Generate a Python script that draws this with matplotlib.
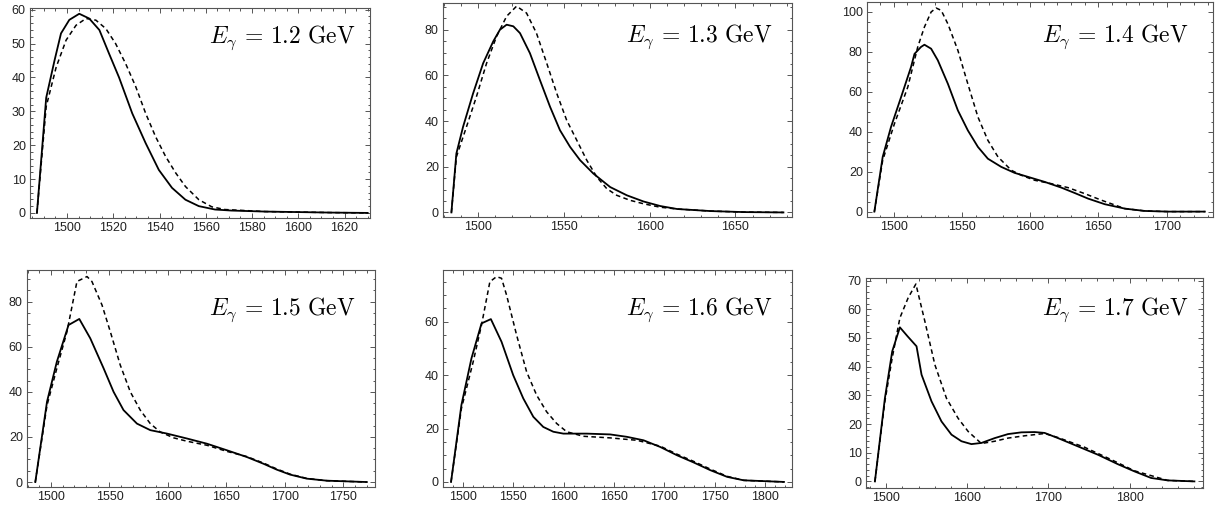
import matplotlib
matplotlib.use("Agg")
from matplotlib import pyplot as plt
from matplotlib.ticker import MultipleLocator, AutoMinorLocator

plt.rcParams['font.family'] = ['Liberation Sans', 'DejaVu Sans']
plt.rcParams['mathtext.fontset'] = 'cm'

# photon energies (GeV)
energies = ["1.2", "1.3", "1.4", "1.5", "1.6", "1.7"]

# E = 1.2
x12_sol = [1487, 1491, 1494.6, 1497.4, 1501, 1505.3, 1509.6, 1514, 1518.2, 1522.5, 1528.2, 1534, 1539.7,
           1545.4, 1551.2, 1557, 1564, 1571, 1585.6, 1614, 1630]
y12_sol = [0, 34, 45, 53, 57, 58.8, 57.4, 54, 47, 40, 29.4, 20.6, 12.7, 7.4, 3.9, 2.0, 1.0, 0.7, 0.4, 0.1, 0]
x12_dash = [1487, 1491, 1495.3, 1499.6, 1503.9, 1508.2, 1512.5, 1516.8, 1521, 1525.4, 1529.7, 1534, 1538.3,
            1542.6, 1547, 1551.2, 1557, 1562.6, 1568.3, 1585.6, 1614, 1630]
y12_dash = [0, 31.4, 43, 51, 55.4, 57.4, 56.9, 54.4, 50, 44, 37.3, 29.4, 22.5, 16.7, 11.8, 7.8, 3.9, 1.8,
            1.0, 0.4, 0.1, 0]

# E = 1.3
x13_sol = [1484.4, 1487.3, 1491.2, 1497, 1502.9, 1508.8, 1512.7, 1516.6, 1520.5, 1524.4, 1530.2, 1536,
           1541.9, 1547.7, 1553.6, 1559.4, 1567.2, 1577, 1586.7, 1596.4, 1606.2, 1616, 1635.4, 1655, 1678]
y13_sol = [0, 25.8, 37.5, 52, 65.3, 74.9, 80, 82.2, 81.5, 78.5, 69.7, 58, 46.3, 36, 28.7, 22.9, 17, 11.1,
           7.5, 4.8, 2.8, 1.5, 0.6, 0.15, 0]
x13_dash = [1484.4, 1487.3, 1493.2, 1499, 1504.9, 1510.7, 1516.6, 1522.4, 1528.2, 1534, 1540, 1545.8,
            1551.6, 1557.5, 1563.3, 1569.2, 1575, 1580.8, 1588.6, 1596.4, 1606, 1616, 1635.4, 1655, 1678]
y13_dash = [0, 24.3, 37.5, 50.7, 65.3, 77, 85.9, 90.3, 87.3, 78.5, 65.3, 52.2, 40.4, 31.6, 22.9, 15.5,
            10.4, 7.5, 5.3, 3.8, 2.3, 1.5, 0.6, 0.15, 0]

# E = 1.4
x14_sol = [1485.8, 1491.9, 1498, 1505.4, 1512.7, 1515.2, 1520, 1522.5, 1527.4, 1532.3, 1539.7, 1547,
           1554.3, 1561.7, 1569, 1578.8, 1588.6, 1598.4, 1610.6, 1622.9, 1632.7, 1642.5, 1654.7, 1669.4,
           1684, 1701, 1728]
y14_sol = [0, 27.4, 42.4, 57.4, 72.5, 79, 82.5, 83.6, 81.6, 75.8, 64, 50.7, 40.7, 32.4, 26.5, 22.4, 19.4,
           17.4, 14.9, 12, 9.3, 6.5, 3.7, 1.5, 0.33, 0, 0]
x14_dash = [1485.8, 1491.9, 1500.5, 1510.3, 1517.6, 1522.5, 1527.4, 1531, 1534.8, 1539.7, 1547, 1554.3,
            1561.7, 1569, 1576.4, 1586.2, 1593.5, 1603.3, 1615.5, 1627.8, 1640, 1652.3, 1669.4, 1684,
            1701, 1728]
y14_dash = [0, 25.7, 44, 62.4, 82.5, 92.5, 100, 102, 100.8, 94, 80.8, 64, 47.4, 35.7, 27.4, 20.7, 18.2,
            15.7, 14, 12, 9, 5.7, 1.5, 0.33, 0, 0]

# E = 1.5
x15_sol = [1486.6, 1496.6, 1505, 1515, 1524.2, 1533.6, 1545, 1553.5, 1562, 1573.5, 1584.9, 1599, 1616.2,
           1633.3, 1650.3, 1667.4, 1681.7, 1693, 1704.4, 1718.7, 1735.8, 1770]
y15_sol = [0, 35.6, 53.3, 69.6, 72.3, 63.7, 50.4, 40, 31.9, 25.9, 23, 21.5, 19.3, 17, 14.1, 11.1, 8.1,
           5.5, 3.3, 1.5, 0.6, 0]
x15_dash = [1486.6, 1496.6, 1505, 1513.7, 1522.2, 1530.8, 1535, 1543.6, 1550.7, 1559.2, 1567.8, 1576.3,
            1584.9, 1593.4, 1604.8, 1616.2, 1633.3, 1650.3, 1667.4, 1681.7, 1693, 1704.4, 1718.7, 1735.8,
            1770]
y15_dash = [0, 34, 50.4, 66.7, 88.9, 91.1, 88.9, 78.5, 66.7, 51.9, 40, 31.9, 25.9, 22.2, 19.6, 18.1,
            16.3, 13.6, 11.3, 8.4, 5.8, 3.5, 1.6, 0.6, 0]

# E = 1.6
x16_sol = [1488, 1498.3, 1508.3, 1518.3, 1527.6, 1538.2, 1549.8, 1559.8, 1569.8, 1579.7, 1589.7, 1599.7,
           1622.9, 1646.2, 1662.8, 1679.4, 1696, 1712.6, 1729.2, 1745.8, 1762.5, 1779, 1819]
y16_sol = [0, 28.8, 46.3, 59.4, 61, 52.5, 40, 31.3, 24.4, 20.6, 18.8, 18.1, 18.1, 17.8, 16.9, 15.6, 13.1,
           10, 7.3, 4.4, 1.9, 0.6, 0]
x16_dash = [1488, 1498.3, 1510, 1518.3, 1526.6, 1533.2, 1538.2, 1543.2, 1553.2, 1563.1, 1573.1, 1583,
            1593, 1603, 1619.6, 1646.2, 1672.8, 1696, 1712.6, 1729.2, 1745.8, 1762.5, 1779, 1819]
y16_dash = [0, 27.5, 45, 58.8, 75, 76.9, 76.3, 70, 55, 41.3, 32.5, 26.3, 21.9, 18.8, 17.1, 16.5, 15.6,
            13.4, 10.4, 7.7, 4.8, 2.1, 0.6, 0]

# E = 1.7
x17_sol = [1486, 1498.3, 1507.3, 1516.8, 1526.2, 1537.3, 1543.5, 1555.8, 1568.1, 1580.4, 1592.7, 1605,
           1617.3, 1633.8, 1650.2, 1666.6, 1683, 1695.3, 1711.7, 1736.4, 1761, 1785.6, 1806, 1826.6,
           1847, 1880]
y17_sol = [0, 29, 45.3, 53.7, 50.6, 47.1, 37.2, 27.9, 20.9, 16.3, 14, 13, 13.4, 15.1, 16.5, 17.1, 17.2,
           16.9, 15.1, 12.2, 9.3, 6, 3.5, 1.2, 0.35, 0]
x17_dash = [1486, 1498.3, 1507.3, 1516.8, 1527, 1536.5, 1547.6, 1559.9, 1574.2, 1588.6, 1601, 1617.3,
            1633.8, 1650.2, 1670.7, 1695.3, 1711.7, 1744.6, 1777.4, 1806, 1847, 1880]
y17_dash = [0, 27.9, 43, 57, 64, 68.8, 55.8, 40.7, 29, 22, 17.4, 13.2, 14.0, 15.1, 15.9, 16.7, 15.3,
            11.9, 7.6, 3.7, 0.35, 0]

solid = [(x12_sol, y12_sol), (x13_sol, y13_sol), (x14_sol, y14_sol),
         (x15_sol, y15_sol), (x16_sol, y16_sol), (x17_sol, y17_sol)]
dashed = [(x12_dash, y12_dash), (x13_dash, y13_dash), (x14_dash, y14_dash),
          (x15_dash, y15_dash), (x16_dash, y16_dash), (x17_dash, y17_dash)]

# panel boxes in pixels: left, top, right, bottom
boxes = [(30, 8, 370, 218), (443, 3, 792, 217), (867, 2, 1213, 217),
         (27, 270, 375, 487), (443, 270, 792, 487), (866, 278, 1203, 488)]
xlims = [(1484, 1631), (1479.5, 1683), (1480.4, 1734), (1479.5, 1777), (1480, 1827), (1475, 1890.6)]
ylims = [(-1.5, 60.5), (-2, 91.7), (-2.7, 105), (-2.2, 94), (-1.9, 79.4), (-2.3, 70.9)]
xsteps = [20, 50, 50, 50, 50, 100]
ysteps = [10, 20, 20, 20, 20, 10]
label_off = [(-15, -16), (-20, -20), (-25, -21), (-20, -26), (-20, -26), (-15, -18)]

W, H = 1228, 515
fig = plt.figure(figsize=(W / 100, H / 100), dpi=100)
frame = '#555555'

for i in range(6):
    l, t, r, b = boxes[i]
    ax = fig.add_axes([l / W, 1 - b / H, (r - l) / W, (b - t) / H])
    ax.plot(*solid[i], color='black', lw=1.3)
    ax.plot(*dashed[i], color='black', lw=1.1, dashes=(3, 2.2))
    ax.set_xlim(*xlims[i])
    ax.set_ylim(*ylims[i])

    ax.xaxis.set_major_locator(MultipleLocator(xsteps[i]))
    ax.yaxis.set_major_locator(MultipleLocator(ysteps[i]))
    # mathematica style: 4 subdivisions for steps of 20, 5 otherwise
    ax.xaxis.set_minor_locator(AutoMinorLocator(4 if xsteps[i] == 20 else 5))
    ax.yaxis.set_minor_locator(AutoMinorLocator(4 if ysteps[i] == 20 else 5))
    ax.tick_params(which='both', direction='in', top=True, right=True, color=frame, width=0.7,
                   labelsize=9, pad=3, labelcolor='#222222')
    ax.tick_params(which='major', length=3.5)
    ax.tick_params(which='minor', length=1.8)
    for sp in ax.spines.values():
        sp.set_color(frame)
        sp.set_linewidth(0.8)

    ax.annotate(r"$E_\gamma\,=\,%s\ \mathrm{GeV}$" % energies[i], xy=(1, 1), xycoords='axes fraction',
                xytext=label_off[i], textcoords='offset pixels', ha='right', va='top', fontsize=17)

fig.savefig('out.png', dpi=100)
